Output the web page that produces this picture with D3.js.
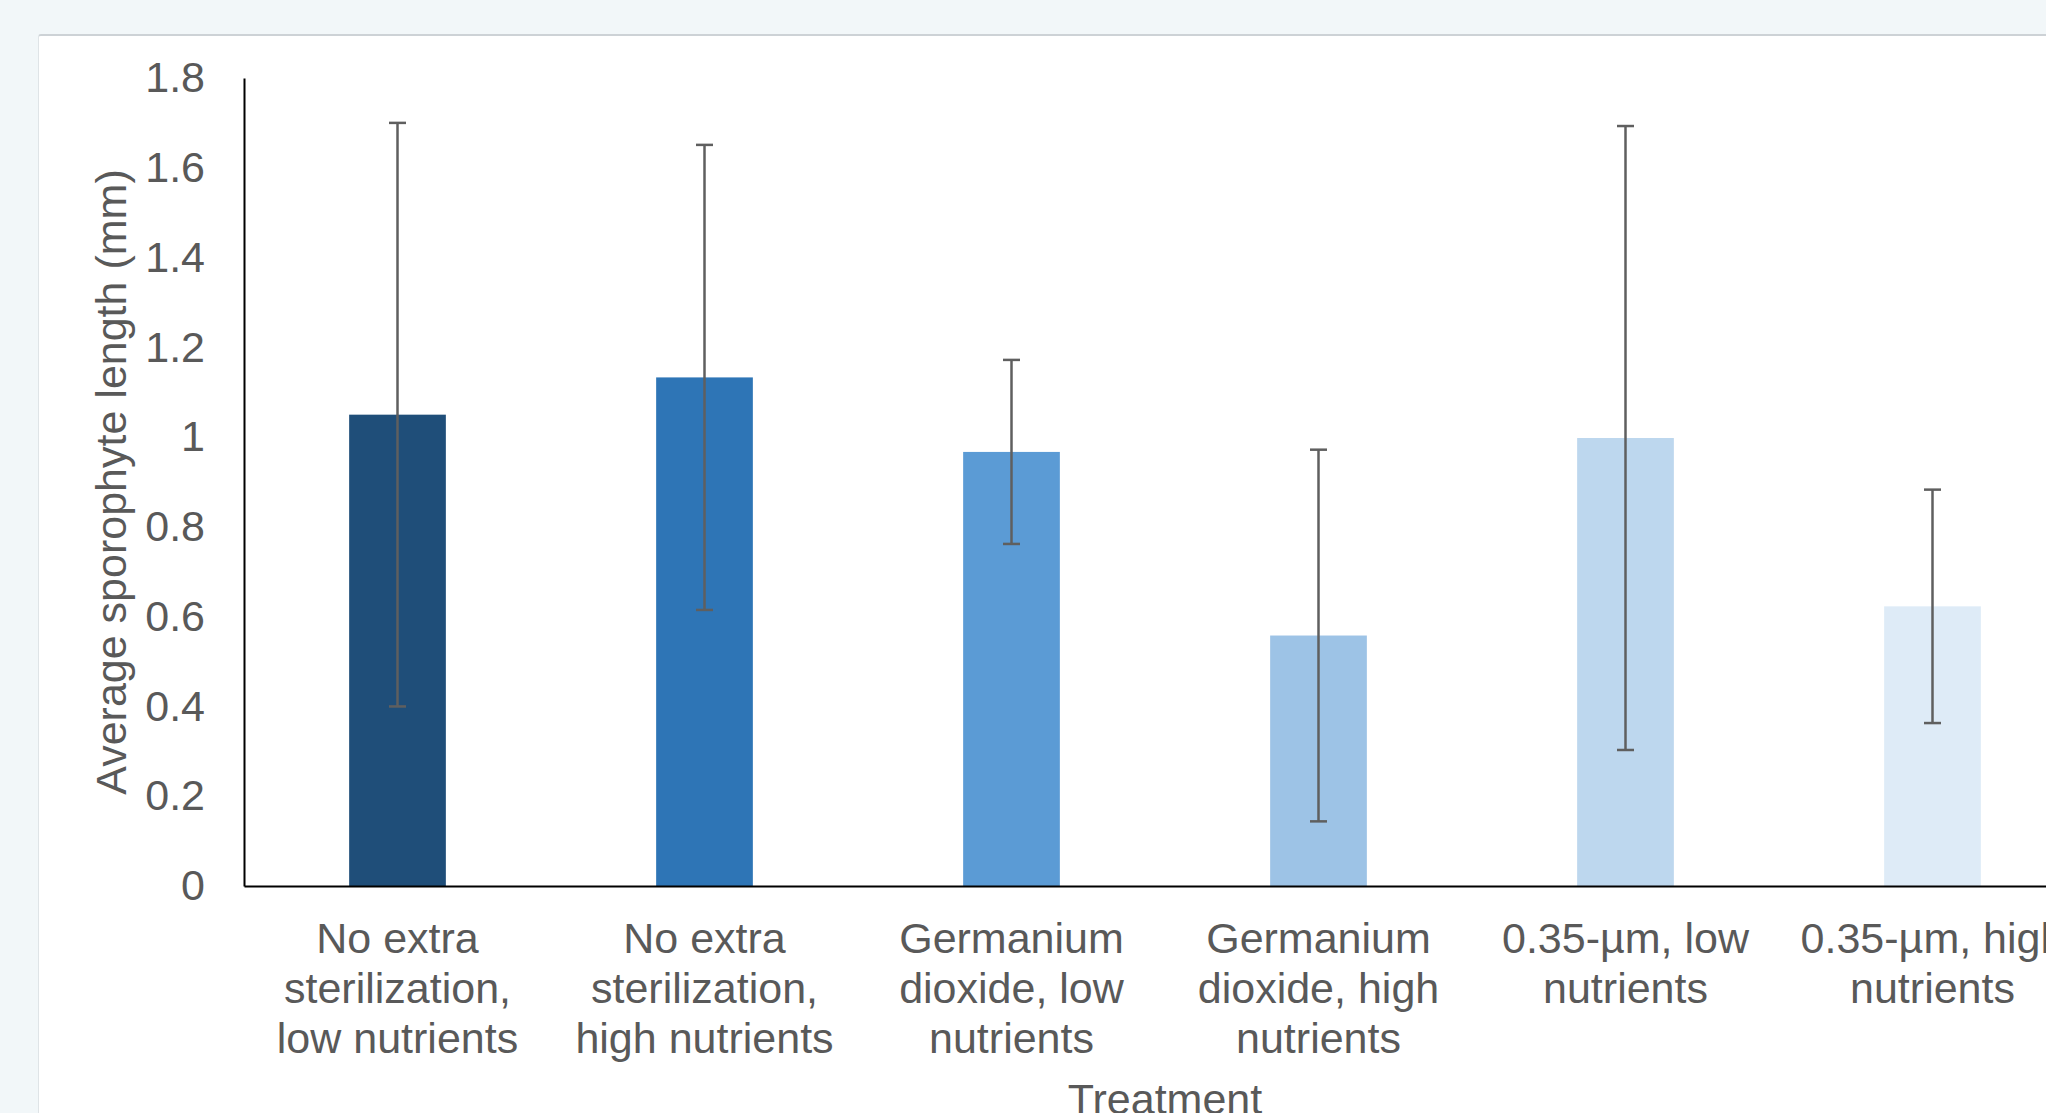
<!DOCTYPE html>
<html>
<head>
<meta charset="utf-8">
<script src="https://cdn.jsdelivr.net/npm/d3@7"></script>
<style>
    body { margin: 0; background: #f2f7f9; overflow: hidden; width: 2046px; height: 1113px; position: relative; }
    #card { position: absolute; left: 38px; top: 34px; width: 2100px; height: 1200px; background: #fff;
            border-top: 2px solid #cdd2d6; border-left: 1px solid #dfe4e7; border-radius: 3px 0 0 0; }
    #chart { position: absolute; left: 0; top: 0; }
</style>
</head>
<body>
<div id="card"></div>
<div id="chart"></div>
<script>
// data
var categories = [
    'No extra sterilization, low nutrients',
    'No extra sterilization, high nutrients',
    'Germanium dioxide, low nutrients',
    'Germanium dioxide, high nutrients',
    '0.35-µm, low nutrients',
    '0.35-µm, high nutrients'
];
var categoryLines = [
    ['No extra', 'sterilization,', 'low nutrients'],
    ['No extra', 'sterilization,', 'high nutrients'],
    ['Germanium', 'dioxide, low', 'nutrients'],
    ['Germanium', 'dioxide, high', 'nutrients'],
    ['0.35-µm, low', 'nutrients'],
    ['0.35-µm, high', 'nutrients']
];
var means = [1.05, 1.133, 0.967, 0.558, 0.998, 0.623];
var errors = [0.65, 0.518, 0.205, 0.414, 0.695, 0.26];
var colors = ['#1f4e79', '#2e75b6', '#5b9bd5', '#9dc3e6', '#bdd7ee', '#deebf7'];
var yTicks = [0, 0.2, 0.4, 0.6, 0.8, 1, 1.2, 1.4, 1.6, 1.8];

var plotLeft = 244, plotRight = 2086, plotTop = 78, plotBottom = 886;
var font = 'Liberation Sans, Arial, Helvetica, sans-serif';
var textColor = '#595959';

var svg = d3.select('#chart')
    .append('svg')
    .attr('width', 2200)
    .attr('height', 1200);

var xScale = d3.scaleBand()
    .domain(categories)
    .range([plotLeft, plotRight])
    .padding(0);

var yScale = d3.scaleLinear()
    .domain([0, 1.8])
    .range([plotBottom, plotTop]);

var barWidth = xScale.step() * 0.315;
var cx = (d) => xScale(d) + xScale.bandwidth() / 2;

// bars
svg.selectAll('rect.bar')
    .data(categories)
    .enter()
    .append('rect')
    .attr('class', 'bar')
    .attr('x', (d) => cx(d) - barWidth / 2)
    .attr('y', (d, i) => yScale(means[i]))
    .attr('width', barWidth)
    .attr('height', (d, i) => plotBottom - yScale(means[i]))
    .attr('fill', (d, i) => colors[i]);

// error bars
var eb = svg.selectAll('g.err')
    .data(categories)
    .enter()
    .append('g')
    .attr('class', 'err')
    .attr('stroke', '#5f5f5f')
    .attr('stroke-width', 2.5);

eb.append('line')
    .attr('x1', cx)
    .attr('x2', cx)
    .attr('y1', (d, i) => yScale(means[i] + errors[i]))
    .attr('y2', (d, i) => yScale(means[i] - errors[i]));

[1, -1].forEach(function(s) {
    eb.append('line')
        .attr('x1', (d) => cx(d) - 8.5)
        .attr('x2', (d) => cx(d) + 8.5)
        .attr('y1', (d, i) => yScale(means[i] + s * errors[i]))
        .attr('y2', (d, i) => yScale(means[i] + s * errors[i]));
});

// y axis
var yAxis = svg.append('g')
    .attr('transform', 'translate(' + plotLeft + ', 0)')
    .call(d3.axisLeft(yScale)
        .tickValues(yTicks)
        .tickFormat(d3.format('~g'))
        .tickSize(0)
        .tickPadding(39));

yAxis.select('.domain')
    .attr('stroke', '#000')
    .attr('stroke-width', 2);

yAxis.selectAll('text')
    .attr('font-size', '43px')
    .attr('font-family', font)
    .attr('fill', textColor);

// x axis
var xAxis = svg.append('g')
    .attr('transform', 'translate(0, ' + plotBottom + ')')
    .call(d3.axisBottom(xScale).tickSize(0).tickFormat(''));

xAxis.select('.domain')
    .attr('stroke', '#000')
    .attr('stroke-width', 2);

xAxis.selectAll('.tick text').remove();

svg.selectAll('text.cat')
    .data(categories)
    .enter()
    .append('text')
    .attr('class', 'cat')
    .attr('y', plotBottom + 67)
    .attr('font-size', '43px')
    .attr('font-family', font)
    .attr('fill', textColor)
    .attr('text-anchor', 'middle')
    .each(function(d, i) {
        var t = d3.select(this);
        categoryLines[i].forEach(function(line, j) {
            t.append('tspan')
                .attr('x', cx(d))
                .attr('dy', j == 0 ? 0 : 50)
                .text(line);
        });
    });

// axis titles
svg.append('text')
    .attr('x', -(plotTop + plotBottom) / 2)
    .attr('y', 126)
    .attr('transform', 'rotate(-90)')
    .attr('font-size', '43px')
    .attr('font-family', font)
    .attr('fill', textColor)
    .attr('text-anchor', 'middle')
    .text('Average sporophyte length (mm)');

svg.append('text')
    .attr('x', (plotLeft + plotRight) / 2)
    .attr('y', 1114)
    .attr('font-size', '43px')
    .attr('font-family', font)
    .attr('fill', textColor)
    .attr('text-anchor', 'middle')
    .text('Treatment');
</script>
</body>
</html>
